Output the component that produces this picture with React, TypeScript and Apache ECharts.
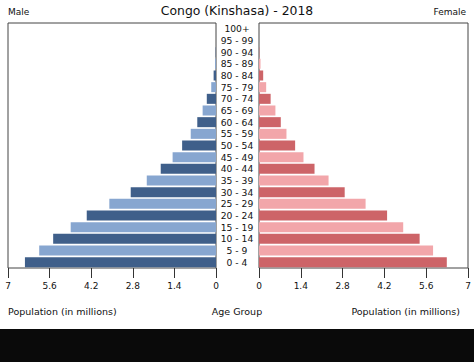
import React, { useEffect, useRef } from "react";
import * as echarts from "echarts";

const ageGroups = [
  "0 - 4", "5 - 9", "10 - 14", "15 - 19", "20 - 24", "25 - 29", "30 - 34",
  "35 - 39", "40 - 44", "45 - 49", "50 - 54", "55 - 59", "60 - 64", "65 - 69",
  "70 - 74", "75 - 79", "80 - 84", "85 - 89", "90 - 94", "95 - 99", "100+",
];
const maleValues = [
  6.43, 5.95, 5.48, 4.89, 4.35, 3.59, 2.87, 2.33, 1.86, 1.46, 1.14, 0.85,
  0.63, 0.45, 0.31, 0.16, 0.08, 0.03, 0.01, 0, 0,
];
const femaleValues = [
  6.29, 5.83, 5.38, 4.83, 4.29, 3.57, 2.87, 2.33, 1.86, 1.49, 1.21, 0.92,
  0.73, 0.55, 0.39, 0.24, 0.14, 0.05, 0.01, 0, 0,
];
const maleColors = ["#3f5f8a", "#87a6d0"];
const femaleColors = ["#cd6468", "#f2a6aa"];
const axisMax = 7;
const axisStep = 1.4;

const FONT = "DejaVu Sans";

export default function App() {
  const ref = useRef<HTMLDivElement>(null);
  useEffect(() => {
    if (!ref.current) return;
    const chart = echarts.init(ref.current, null, { renderer: "svg" });
    const fmt = (v: number) => String(Number(v.toFixed(1)));
    const xBase = {
      type: "value" as const,
      min: 0,
      max: axisMax,
      interval: axisStep,
      splitLine: { show: false },
      axisLine: { show: false },
      axisTick: { show: true, length: 10, lineStyle: { color: "#333" } },
      axisLabel: { formatter: fmt, fontSize: 9, color: "#111", margin: 13, fontFamily: FONT },
    };
    chart.setOption({
      animation: false,
      textStyle: { fontFamily: FONT },
      grid: [
        { left: 8, top: 23, width: 208, height: 245, show: true, borderColor: "#444", borderWidth: 1, backgroundColor: "#fff" },
        { left: 259, top: 23, width: 209, height: 245, show: true, borderColor: "#444", borderWidth: 1, backgroundColor: "#fff" },
      ],
      xAxis: [
        { ...xBase, gridIndex: 0, inverse: true },
        { ...xBase, gridIndex: 1 },
      ],
      yAxis: [
        {
          type: "category",
          gridIndex: 0,
          data: ageGroups,
          position: "right",
          axisLine: { show: false },
          axisTick: { show: false },
          axisLabel: { show: true, interval: 0, align: "center", margin: 21, fontSize: 9.2, color: "#111", fontFamily: FONT, padding: [3, 0, 0, 0] },
        },
        {
          type: "category",
          gridIndex: 1,
          data: ageGroups,
          axisLine: { show: false },
          axisTick: { show: false },
          axisLabel: { show: false },
        },
      ],
      series: [
        {
          type: "bar",
          xAxisIndex: 0,
          yAxisIndex: 0,
          barCategoryGap: "14%",
          data: maleValues.map((v, i) => ({ value: v, itemStyle: { color: maleColors[i % 2] } })),
        },
        {
          type: "bar",
          xAxisIndex: 1,
          yAxisIndex: 1,
          barCategoryGap: "14%",
          data: femaleValues.map((v, i) => ({ value: v, itemStyle: { color: femaleColors[i % 2] } })),
        },
      ],
      graphic: [
        { type: "text", left: 8, top: 7, style: { text: "Male", fontSize: 9, fill: "#111", fontFamily: FONT } },
        { type: "text", left: "center", top: 4, style: { text: "Congo (Kinshasa) - 2018", fontSize: 12.4, fill: "#111", fontFamily: FONT } },
        { type: "text", right: 8, top: 7, style: { text: "Female", fontSize: 9, fill: "#111", fontFamily: FONT } },
        { type: "text", left: 8, top: 306, style: { text: "Population (in millions)", fontSize: 9.5, fill: "#111", fontFamily: FONT } },
        { type: "text", left: "center", top: 306, style: { text: "Age Group", fontSize: 9.5, fill: "#111", fontFamily: FONT } },
        { type: "text", right: 14, top: 306, style: { text: "Population (in millions)", fontSize: 9.5, fill: "#111", fontFamily: FONT } },
        { type: "rect", left: 0, top: 329, shape: { width: 474, height: 33 }, style: { fill: "#0a0a0a" } },
      ],
    });
    return () => chart.dispose();
  }, []);
  return (
    <div
      ref={ref}
      style={{ position: "fixed", left: 0, top: 0, width: 474, height: 362, background: "#fff" }}
    />
  );
}
